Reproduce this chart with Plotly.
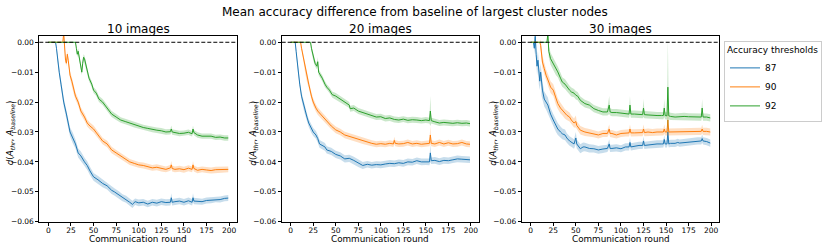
import plotly.graph_objects as go

# Each series: (communication round, mean difference, band half-width)
R10_87 = [(0,0,0),(8,0,0),(9,-0.002,0.0005),(10,-0.005,0.001),(12,-0.010,0.0012),(14,-0.014,0.0015),(17,-0.020,0.0015),(20,-0.024,0.0015),(22,-0.027,0.0015),(24,-0.030,0.0015),(27,-0.032,0.0018),(30,-0.034,0.0015),(33,-0.037,0.0015),(36,-0.038,0.0015),(40,-0.040,0.0014),(43,-0.0412,0.0014),(46,-0.043,0.0014),(50,-0.045,0.0013),(55,-0.046,0.0013),(60,-0.0472,0.0013),(65,-0.048,0.0012),(70,-0.0495,0.0012),(73,-0.050,0.0012),(78,-0.051,0.0012),(82,-0.052,0.0012),(86,-0.0525,0.0012),(90,-0.0535,0.0012),(93,-0.0542,0.0012),(96,-0.0533,0.0011),(100,-0.0537,0.0011),(105,-0.0535,0.0011),(110,-0.0541,0.0011),(115,-0.0535,0.0011),(120,-0.0538,0.0011),(125,-0.0533,0.0011),(130,-0.0536,0.0011),(135,-0.0535,0.0011),(136,-0.052,0.0015),(137,-0.0535,0.0011),(140,-0.0533,0.0011),(145,-0.0531,0.0011),(150,-0.0535,0.0011),(155,-0.0530,0.0011),(159,-0.0535,0.0011),(160,-0.052,0.0015),(161,-0.0531,0.0011),(165,-0.0532,0.0011),(170,-0.0533,0.001),(175,-0.0529,0.001),(180,-0.0528,0.001),(185,-0.0525,0.001),(190,-0.0526,0.001),(195,-0.0522,0.001),(199,-0.0521,0.001)]
R10_90 = [(0,0,0),(16,0,0),(17,0.003,0.001),(18,-0.002,0.001),(19,-0.006,0.001),(20,-0.007,0.001),(21,-0.004,0.001),(22,-0.006,0.001),(24,-0.011,0.0012),(26,-0.013,0.0012),(28,-0.016,0.0012),(30,-0.018,0.0012),(33,-0.020,0.0012),(36,-0.023,0.0012),(40,-0.025,0.0012),(43,-0.027,0.0012),(46,-0.028,0.0012),(50,-0.029,0.0012),(55,-0.031,0.0011),(60,-0.033,0.0011),(65,-0.034,0.0011),(70,-0.036,0.0011),(75,-0.037,0.001),(80,-0.038,0.001),(85,-0.039,0.001),(90,-0.040,0.001),(95,-0.0405,0.001),(100,-0.041,0.001),(105,-0.0412,0.001),(110,-0.0415,0.001),(115,-0.0420,0.001),(120,-0.0418,0.001),(125,-0.0422,0.001),(130,-0.0425,0.001),(135,-0.0420,0.001),(136,-0.041,0.0013),(137,-0.0422,0.001),(140,-0.0425,0.001),(145,-0.0423,0.001),(150,-0.0426,0.001),(155,-0.0421,0.001),(159,-0.0425,0.001),(160,-0.041,0.0013),(161,-0.0422,0.001),(165,-0.0428,0.001),(170,-0.0425,0.001),(175,-0.0427,0.001),(180,-0.0429,0.001),(185,-0.0426,0.001),(190,-0.0425,0.001),(195,-0.0426,0.001),(199,-0.0425,0.001)]
R10_92 = [(0,0,0),(30,0,0),(31,-0.002,0.001),(32,-0.004,0.001),(33,-0.003,0.001),(34,-0.0045,0.001),(36,-0.008,0.001),(37,-0.010,0.001),(38,-0.007,0.001),(39,-0.005,0.001),(40,-0.0055,0.001),(42,-0.008,0.001),(45,-0.012,0.001),(48,-0.014,0.001),(50,-0.016,0.001),(53,-0.017,0.001),(56,-0.019,0.001),(60,-0.020,0.001),(65,-0.022,0.001),(70,-0.024,0.001),(75,-0.025,0.001),(80,-0.026,0.0009),(85,-0.0265,0.0009),(90,-0.027,0.0009),(95,-0.0276,0.0009),(100,-0.0280,0.0009),(105,-0.0285,0.0009),(110,-0.0288,0.0009),(115,-0.0292,0.0009),(120,-0.0294,0.0009),(125,-0.0296,0.0009),(130,-0.0300,0.0009),(135,-0.0299,0.0009),(136,-0.029,0.0012),(137,-0.0300,0.0009),(140,-0.0302,0.0009),(145,-0.0305,0.0009),(150,-0.0304,0.0009),(155,-0.0301,0.0009),(159,-0.0306,0.0009),(160,-0.029,0.0012),(161,-0.0302,0.0009),(165,-0.0310,0.0009),(170,-0.0314,0.0009),(175,-0.0315,0.0009),(180,-0.0314,0.0009),(185,-0.0318,0.0009),(190,-0.0317,0.0009),(195,-0.0320,0.0009),(199,-0.0320,0.0009)]

R20_87 = [(0,0,0),(5,0,0),(6,-0.003,0.001),(8,-0.009,0.0012),(10,-0.014,0.0013),(12,-0.018,0.0013),(15,-0.022,0.0013),(18,-0.025,0.0013),(20,-0.027,0.0013),(23,-0.029,0.0013),(25,-0.030,0.0013),(28,-0.031,0.0013),(30,-0.0322,0.0013),(32,-0.034,0.0013),(35,-0.0345,0.0013),(38,-0.035,0.0013),(40,-0.036,0.0012),(45,-0.0365,0.0012),(50,-0.0375,0.0012),(55,-0.038,0.0012),(60,-0.039,0.0012),(65,-0.0388,0.0012),(70,-0.0395,0.0012),(75,-0.0405,0.0012),(80,-0.0412,0.0012),(85,-0.0408,0.0011),(90,-0.0411,0.0011),(95,-0.0409,0.0011),(100,-0.0410,0.0011),(105,-0.0407,0.0011),(110,-0.0405,0.0011),(115,-0.0406,0.0011),(120,-0.0403,0.0011),(125,-0.0405,0.0011),(130,-0.0400,0.0011),(135,-0.0401,0.0011),(140,-0.0396,0.0011),(145,-0.0400,0.0011),(150,-0.0399,0.0011),(154,-0.0400,0.0011),(155,-0.0370,0.003),(156,-0.0396,0.0011),(160,-0.0395,0.0011),(165,-0.0399,0.0011),(170,-0.0395,0.0011),(175,-0.0396,0.0011),(180,-0.0393,0.0011),(185,-0.0390,0.0011),(190,-0.0391,0.0011),(195,-0.0392,0.0011),(199,-0.0393,0.0011)]
R20_90 = [(0,0,0),(11,0,0),(12,-0.002,0.001),(14,-0.005,0.001),(16,-0.009,0.0012),(18,-0.012,0.0012),(20,-0.014,0.0012),(23,-0.018,0.0012),(25,-0.020,0.0012),(28,-0.022,0.0012),(30,-0.023,0.0012),(33,-0.024,0.0012),(36,-0.025,0.0011),(40,-0.0265,0.0011),(45,-0.028,0.0011),(50,-0.0293,0.0011),(55,-0.030,0.0011),(60,-0.031,0.0011),(65,-0.0315,0.0011),(70,-0.0320,0.001),(75,-0.0325,0.001),(80,-0.0330,0.001),(85,-0.0335,0.001),(90,-0.0338,0.001),(95,-0.0341,0.001),(100,-0.0339,0.001),(105,-0.0341,0.001),(110,-0.0338,0.001),(114,-0.0340,0.001),(115,-0.0328,0.0012),(116,-0.0338,0.001),(120,-0.0340,0.001),(125,-0.0339,0.001),(130,-0.0335,0.001),(135,-0.0340,0.001),(140,-0.0338,0.001),(145,-0.0341,0.001),(150,-0.0339,0.001),(154,-0.0338,0.001),(155,-0.0310,0.003),(156,-0.0338,0.001),(160,-0.0340,0.001),(165,-0.0335,0.001),(170,-0.0340,0.001),(175,-0.0336,0.001),(180,-0.0340,0.001),(185,-0.0339,0.001),(190,-0.0335,0.001),(195,-0.0340,0.001),(199,-0.0341,0.001)]
R20_92 = [(0,0,0),(22,0,0),(23,-0.002,0.001),(25,-0.005,0.001),(27,-0.007,0.001),(29,-0.008,0.001),(30,-0.0065,0.0015),(31,-0.010,0.001),(33,-0.011,0.001),(35,-0.012,0.001),(38,-0.014,0.001),(40,-0.015,0.001),(43,-0.016,0.001),(46,-0.0175,0.001),(50,-0.018,0.001),(55,-0.019,0.001),(60,-0.020,0.001),(65,-0.021,0.001),(66,-0.0222,0.001),(70,-0.022,0.001),(75,-0.023,0.001),(80,-0.0235,0.001),(85,-0.0240,0.001),(90,-0.0245,0.001),(95,-0.0250,0.001),(100,-0.0249,0.001),(105,-0.0255,0.001),(110,-0.0253,0.001),(115,-0.0258,0.001),(120,-0.0260,0.001),(125,-0.0257,0.001),(130,-0.0261,0.001),(135,-0.0259,0.001),(140,-0.0260,0.001),(145,-0.0262,0.001),(150,-0.0260,0.001),(154,-0.0262,0.001),(155,-0.0230,0.005),(156,-0.0262,0.001),(160,-0.0266,0.001),(165,-0.0270,0.001),(170,-0.0268,0.001),(175,-0.0270,0.001),(180,-0.0271,0.001),(185,-0.0269,0.001),(190,-0.0271,0.001),(195,-0.0270,0.001),(199,-0.0272,0.001)]

R30_87 = [(0,0,0),(3,0,0),(4,-0.002,0.002),(5,0.002,0.003),(6,-0.004,0.003),(7,-0.008,0.003),(8,-0.006,0.003),(9,-0.011,0.003),(10,-0.013,0.003),(11,-0.010,0.003),(12,-0.015,0.003),(13,-0.016,0.0028),(15,-0.019,0.0025),(17,-0.020,0.0025),(19,-0.021,0.0025),(20,-0.022,0.0022),(22,-0.024,0.002),(25,-0.026,0.002),(28,-0.028,0.002),(30,-0.029,0.002),(33,-0.030,0.0018),(35,-0.0306,0.0018),(38,-0.031,0.0018),(40,-0.032,0.0016),(43,-0.033,0.0016),(45,-0.0333,0.0016),(48,-0.034,0.0016),(50,-0.032,0.002),(51,-0.034,0.0015),(55,-0.0356,0.0015),(58,-0.035,0.0015),(60,-0.0350,0.0014),(65,-0.0355,0.0014),(70,-0.0356,0.0013),(75,-0.0360,0.0013),(80,-0.0357,0.0013),(85,-0.0355,0.0012),(87,-0.0340,0.0015),(88,-0.0355,0.0012),(90,-0.0355,0.0012),(95,-0.0353,0.0012),(100,-0.0356,0.0012),(105,-0.0350,0.0012),(109,-0.0350,0.0012),(110,-0.0335,0.0015),(111,-0.0350,0.0012),(115,-0.0347,0.0012),(120,-0.0345,0.0012),(124,-0.0345,0.0012),(125,-0.0330,0.0015),(126,-0.0345,0.0012),(130,-0.0343,0.0012),(135,-0.0342,0.0012),(140,-0.0340,0.0012),(145,-0.0340,0.0012),(147,-0.0340,0.0012),(148,-0.0325,0.0015),(149,-0.0340,0.0012),(151,-0.0340,0.0012),(152,-0.0300,0.004),(153,-0.0340,0.0012),(155,-0.0338,0.0012),(160,-0.0338,0.0012),(163,-0.0335,0.0012),(165,-0.0337,0.0012),(170,-0.0335,0.0012),(175,-0.0333,0.0012),(180,-0.0332,0.0012),(185,-0.0330,0.0012),(189,-0.0330,0.0012),(190,-0.0322,0.0014),(191,-0.0330,0.0012),(195,-0.0332,0.0012),(199,-0.0337,0.0012)]
R30_90 = [(0,0,0),(10,0,0),(11,-0.001,0.002),(13,-0.0066,0.002),(15,-0.0088,0.002),(17,-0.011,0.002),(20,-0.0133,0.002),(22,-0.015,0.002),(25,-0.016,0.002),(28,-0.019,0.002),(30,-0.0205,0.0018),(33,-0.022,0.0018),(35,-0.0228,0.0016),(38,-0.024,0.0016),(40,-0.0244,0.0016),(43,-0.025,0.0015),(45,-0.026,0.0015),(48,-0.027,0.0015),(50,-0.0265,0.002),(51,-0.0278,0.0014),(55,-0.0294,0.0014),(60,-0.0300,0.0013),(65,-0.0303,0.0013),(70,-0.0306,0.0012),(75,-0.0310,0.0012),(80,-0.0305,0.0012),(85,-0.0305,0.0012),(87,-0.0290,0.0015),(88,-0.0305,0.0012),(90,-0.0305,0.0012),(95,-0.0310,0.0012),(100,-0.0305,0.0012),(105,-0.0303,0.0012),(109,-0.0303,0.0012),(110,-0.0290,0.0015),(111,-0.0303,0.0012),(115,-0.0303,0.0012),(120,-0.0302,0.0012),(124,-0.0302,0.0012),(125,-0.0290,0.0015),(126,-0.0302,0.0012),(130,-0.0300,0.0012),(135,-0.0302,0.0012),(140,-0.0300,0.0012),(145,-0.0300,0.0012),(147,-0.0300,0.0012),(148,-0.0290,0.0015),(149,-0.0300,0.0012),(151,-0.0300,0.0012),(152,-0.0260,0.005),(153,-0.0300,0.0012),(155,-0.0300,0.0012),(160,-0.0300,0.0012),(165,-0.0298,0.0012),(170,-0.0300,0.0012),(175,-0.0298,0.0012),(180,-0.0298,0.0012),(185,-0.0298,0.0012),(189,-0.0298,0.0012),(190,-0.0290,0.0014),(191,-0.0298,0.0012),(195,-0.0298,0.0012),(199,-0.0300,0.0012)]
R30_92 = [(0,0,0),(18,0,0),(19,0.003,0.002),(20,-0.003,0.002),(22,-0.0055,0.002),(25,-0.0071,0.002),(28,-0.009,0.002),(30,-0.0099,0.0018),(33,-0.012,0.0018),(35,-0.0133,0.0016),(38,-0.014,0.0016),(40,-0.0149,0.0015),(43,-0.016,0.0015),(45,-0.0166,0.0015),(48,-0.017,0.0014),(50,-0.0177,0.0014),(52,-0.018,0.0014),(55,-0.0194,0.0013),(60,-0.0205,0.0013),(65,-0.0210,0.0012),(70,-0.0222,0.0012),(75,-0.0228,0.0012),(80,-0.0233,0.0012),(85,-0.0233,0.0012),(87,-0.0210,0.003),(88,-0.0233,0.0012),(90,-0.0235,0.0012),(95,-0.0235,0.0012),(100,-0.0236,0.0012),(105,-0.0238,0.0012),(109,-0.0240,0.0012),(110,-0.0210,0.003),(111,-0.0240,0.0012),(115,-0.0240,0.0012),(120,-0.0240,0.0012),(124,-0.0242,0.0012),(125,-0.0220,0.003),(126,-0.0242,0.0012),(130,-0.0243,0.0012),(135,-0.0245,0.0012),(140,-0.0245,0.0012),(145,-0.0245,0.0012),(147,-0.0245,0.0012),(148,-0.0220,0.003),(149,-0.0245,0.0012),(151,-0.0246,0.0012),(152,-0.0150,0.016),(153,-0.0246,0.0012),(155,-0.0248,0.0012),(160,-0.0250,0.0012),(165,-0.0248,0.0012),(170,-0.0248,0.0012),(175,-0.0249,0.0012),(180,-0.0250,0.0012),(185,-0.0250,0.0012),(189,-0.0250,0.0012),(190,-0.0220,0.003),(191,-0.0250,0.0012),(195,-0.0250,0.0012),(199,-0.0253,0.0012)]

PANEL_TITLES = ["10 images", "20 images", "30 images"]
THRESHOLDS = ["87", "90", "92"]
PANELS = [[R10_87, R10_90, R10_92], [R20_87, R20_90, R20_92], [R30_87, R30_90, R30_92]]
Y_TICKS = [0.0, -0.01, -0.02, -0.03, -0.04, -0.05, -0.06]
X_TICKS = [0, 25, 50, 75, 100, 125, 150, 175, 200]

COLORS = ["#1f77b4", "#ff7f0e", "#2ca02c"]
FILLS = ["rgba(31,119,180,0.25)", "rgba(255,127,14,0.25)", "rgba(44,160,44,0.25)"]
W, H = 830, 247
X_DOM = [(39.3, 237.3), (281.7, 479.0), (521.7, 719.3)]
Y_TOP, Y_BOT = 35.7, 221.7
FONT = "DejaVu Sans"

fig = go.Figure()
for p, series_list in enumerate(PANELS):
    xa = "x" if p == 0 else f"x{p+1}"
    ya = "y" if p == 0 else f"y{p+1}"
    for s, data in enumerate(series_list):
        xs = [d[0] for d in data]
        ms = [d[1] for d in data]
        lo = [d[1] - d[2] for d in data]
        hi = [d[1] + d[2] for d in data]
        fig.add_trace(go.Scatter(x=xs + xs[::-1], y=hi + lo[::-1], fill="toself",
                                 fillcolor=FILLS[s], line=dict(width=0), mode="lines",
                                 hoverinfo="skip", showlegend=False, xaxis=xa, yaxis=ya))
        fig.add_trace(go.Scatter(x=xs, y=ms, mode="lines", line=dict(color=COLORS[s], width=1),
                                 name=THRESHOLDS[s], showlegend=(p == 0), legendgroup=THRESHOLDS[s],
                                 xaxis=xa, yaxis=ya))

layout = {}
for p in range(3):
    sfx = "" if p == 0 else str(p + 1)
    x0, x1 = X_DOM[p]
    layout["xaxis" + sfx] = dict(domain=[x0 / W, x1 / W], range=[-10, 209], tickvals=X_TICKS,
                                 ticks="outside", ticklen=3, tickwidth=0.8, tickcolor="#000",
                                 ticklabelstandoff=-2, automargin=False,
                                 showline=True, linecolor="#000", linewidth=0.8, mirror=True,
                                 showgrid=False, zeroline=False, anchor="y" + sfx,
                                 tickfont=dict(size=7.5, color="#000", family=FONT))
    layout["yaxis" + sfx] = dict(domain=[1 - Y_BOT / H, 1 - Y_TOP / H], range=[-0.06, 0.0022],
                                 tickvals=Y_TICKS, tickformat=".2f", automargin=False,
                                 ticks="outside", ticklen=3, tickwidth=0.8, tickcolor="#000",
                                 showline=True, linecolor="#000", linewidth=0.8, mirror=True,
                                 showgrid=False, zeroline=False, anchor="x" + sfx,
                                 tickfont=dict(size=7.5, color="#000", family=FONT))
fig.update_layout(**layout)

shapes = []
annotations = []
for p in range(3):
    sfx = "" if p == 0 else str(p + 1)
    x0, x1 = X_DOM[p]
    shapes.append(dict(type="line", xref=f"x{sfx} domain", yref="y" + sfx, x0=0, x1=1, y0=0, y1=0,
                       line=dict(color="#000", width=1, dash="4px,2px")))
    annotations.append(dict(text=PANEL_TITLES[p], x=(x0 + x1) / 2 / W, y=1 - 29 / H, xref="paper",
                            yref="paper", showarrow=False, xanchor="center", yanchor="middle",
                            font=dict(size=12, color="#000", family=FONT)))
    annotations.append(dict(text="Communication round", x=(x0 + x1) / 2 / W, y=1 - 239 / H,
                            xref="paper", yref="paper", showarrow=False, xanchor="center",
                            yanchor="middle", font=dict(size=8.8, color="#000", family=FONT)))
    annotations.append(dict(text="<i>d</i>(<i>A</i><sub><i>thr</i></sub>, <i>A</i><sub><i>baseline</i></sub>)",
                            x=(x0 - 29) / W, y=1 - 133 / H, xref="paper", yref="paper",
                            showarrow=False, textangle=-90, xanchor="center", yanchor="middle",
                            font=dict(size=8.8, color="#000", family=FONT)))
annotations.append(dict(text="Mean accuracy difference from baseline of largest cluster nodes",
                        x=0.5, y=1 - 12 / H, xref="paper", yref="paper", showarrow=False,
                        xanchor="center", yanchor="middle",
                        font=dict(size=12, color="#000", family=FONT)))

fig.update_layout(
    width=W, height=H, margin=dict(l=0, r=0, t=0, b=0, autoexpand=False),
    paper_bgcolor="white", plot_bgcolor="white",
    shapes=shapes, annotations=annotations,
    legend=dict(title=dict(text="Accuracy thresholds", font=dict(size=9, color="#000", family=FONT)),
                x=724 / W, y=1 - 40.7 / H, xanchor="left", yanchor="top",
                bordercolor="#cccccc", borderwidth=1, bgcolor="white",
                font=dict(size=9, color="#000", family=FONT), tracegroupgap=0, itemwidth=30),
    font=dict(family=FONT, color="#000"),
)
fig.write_html("out.html", config={"displayModeBar": False},
               post_script="document.body.style.margin='0';")
